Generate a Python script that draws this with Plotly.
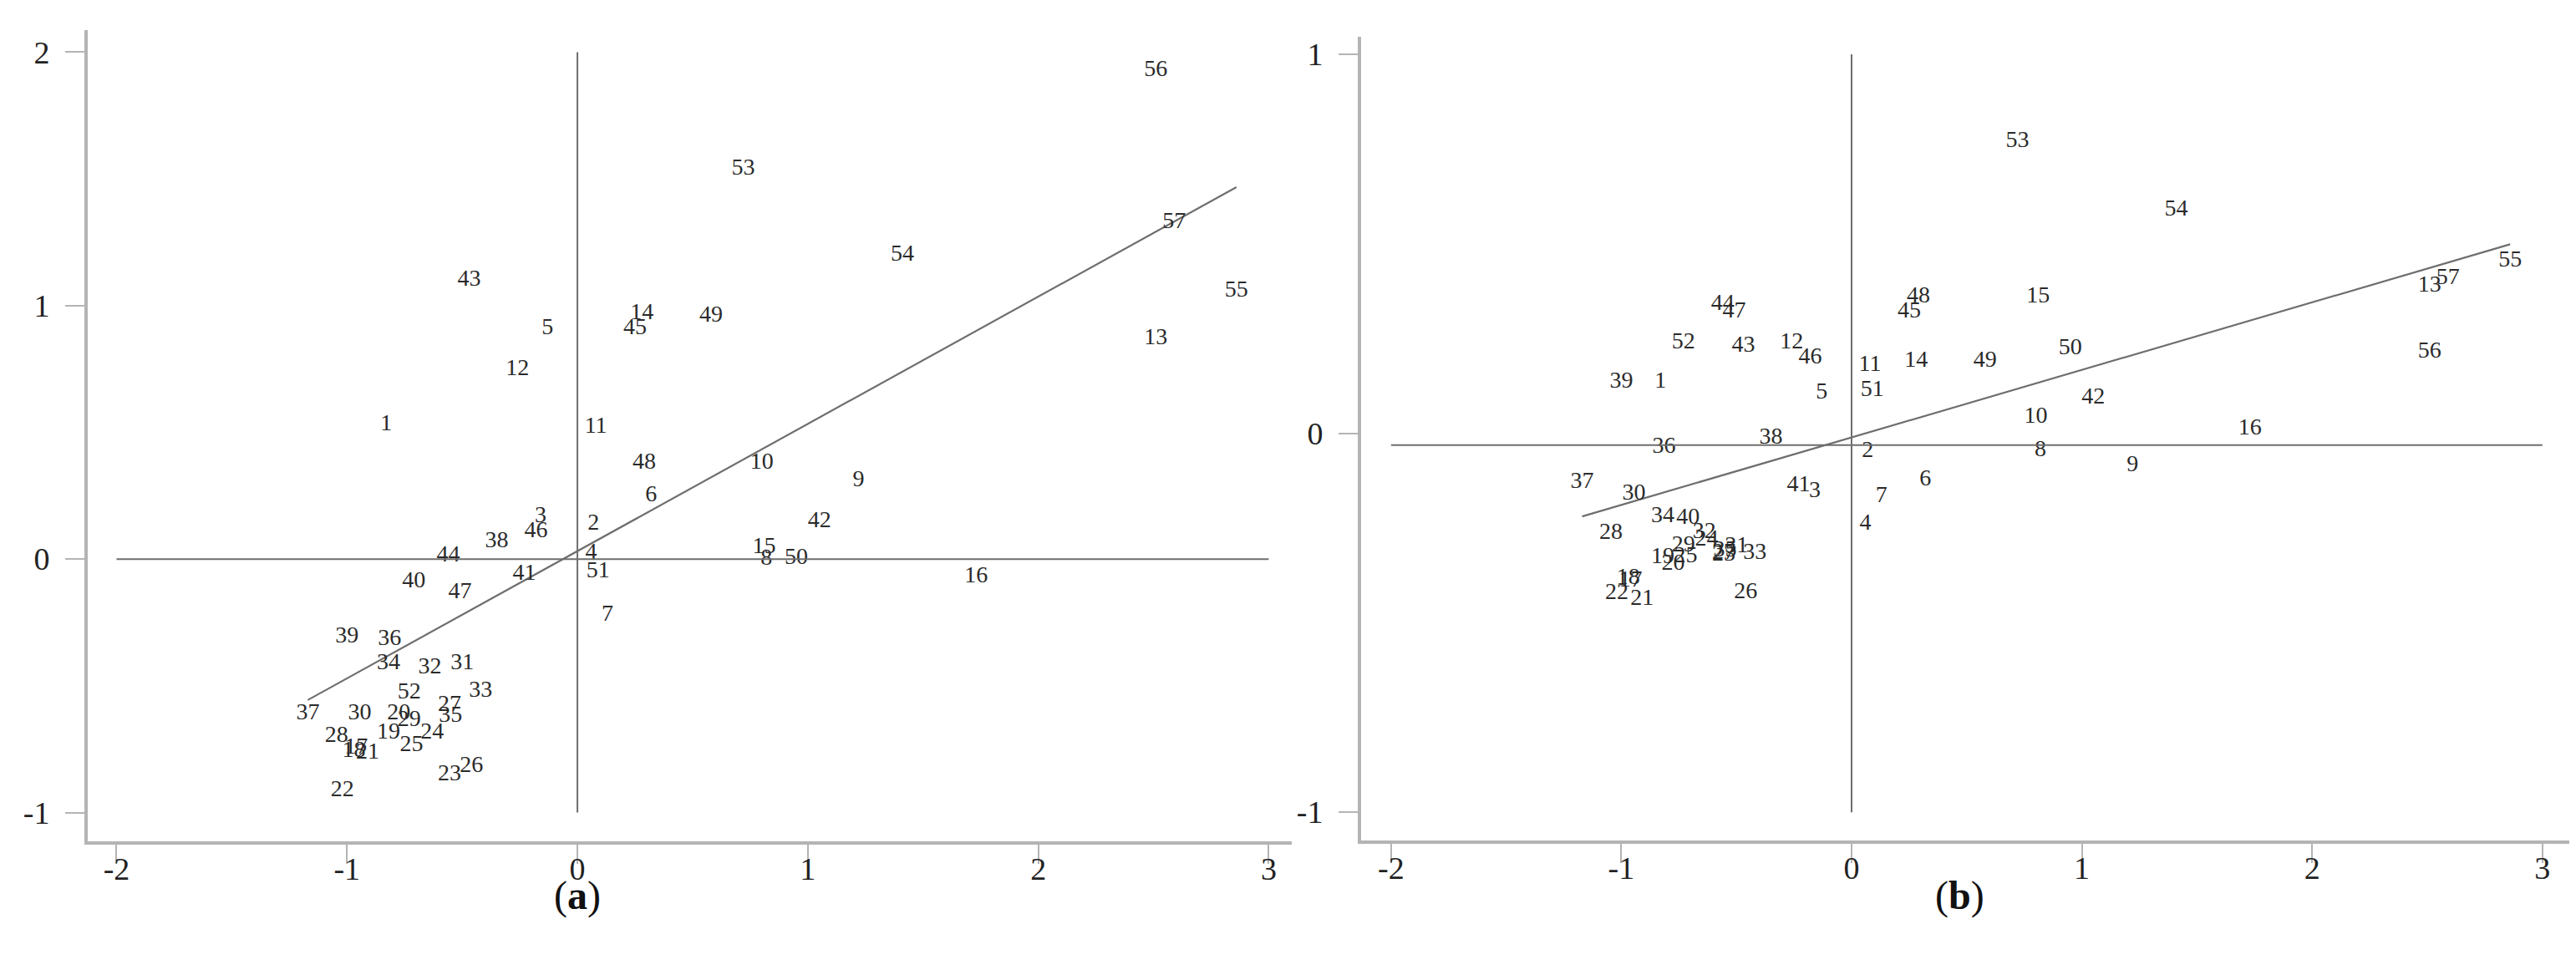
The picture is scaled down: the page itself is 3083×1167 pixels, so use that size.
import numpy as np
import plotly.graph_objects as go

# ---- data ----
labels = [str(i) for i in range(1, 58)]

x_vals = [-0.83, 0.07, -0.16, 0.06, -0.13, 0.32, 0.13, 0.82, 1.22, 0.80,
          0.08, -0.26, 2.51, 0.28, 0.81, 1.73, -0.96, -0.97, -0.82, -0.775,
          -0.91, -1.02, -0.555, -0.63, -0.72, -0.46, -0.555, -1.045, -0.73, -0.945,
          -0.50, -0.64, -0.42, -0.82, -0.55, -0.815, -1.17, -0.35, -1.0, -0.71,
          -0.23, 1.05, -0.47, -0.56, 0.25, -0.18, -0.51, 0.29, 0.58, 0.95,
          0.09, -0.73, 0.72, 1.41, 2.86, 2.51, 2.59]

y_a = [0.53, 0.14, 0.17, 0.025, 0.91, 0.25, -0.22, 0.0, 0.31, 0.38,
       0.52, 0.75, 0.87, 0.97, 0.045, -0.07, -0.745, -0.757, -0.686, -0.609,
       -0.763, -0.911, -0.851, -0.686, -0.735, -0.818, -0.576, -0.697, -0.636, -0.609,
       -0.413, -0.427, -0.52, -0.41, -0.62, -0.317, -0.61, 0.07, -0.306, -0.09,
       -0.06, 0.15, 1.10, 0.015, 0.91, 0.11, -0.13, 0.38, 0.96, 0.005,
       -0.05, -0.526, 1.54, 1.20, 1.06, 1.93, 1.33]

y_b = [0.136, -0.048, -0.153, -0.24, 0.108, -0.123, -0.166, -0.046, -0.084, 0.044,
       0.18, 0.24, 0.39, 0.19, 0.36, 0.013, -0.39, -0.383, -0.328, -0.344,
       -0.438, -0.423, -0.32, -0.28, -0.324, -0.42, -0.317, -0.263, -0.297, -0.159,
       -0.299, -0.262, -0.317, -0.22, -0.31, -0.036, -0.128, -0.011, 0.135, -0.223,
       -0.138, 0.094, 0.23, 0.34, 0.32, 0.20, 0.32, 0.36, 0.19, 0.225,
       0.113, 0.24, 0.77, 0.59, 0.456, 0.215, 0.41]

x_ticks = [-2, -1, 0, 1, 2, 3]
x_ticktext = ["-2", "-1", "0", "1", "2", "3"]
ya_ticks = [-1, 0, 1, 2]
ya_ticktext = ["-1", "0", "1", "2"]
yb_ticks = [-1, 0, 1]
yb_ticktext = ["-1", "0", "1"]
hline_a = 0.0
hline_b = -0.031
vline = 0.0
captions = ["a", "b"]

# ---- figure ----
W, H = 3083, 1167
SERIF = "Liberation Serif"
LINE_C = "#6e6e6e"
AXIS_C = "#b4b4b4"

fig = go.Figure()

panels = [
    dict(y=y_a, xa="x", ya="y", yt=ya_ticks, hl=hline_a),
    dict(y=y_b, xa="x2", ya="y2", yt=yb_ticks, hl=hline_b),
]

x_arr = np.array(x_vals)
for p in panels:
    y_arr = np.array(p["y"])
    # reference lines spanning the tick range
    fig.add_shape(type="line", xref=p["xa"], yref=p["ya"],
                  x0=vline, x1=vline, y0=min(p["yt"]), y1=max(p["yt"]),
                  line=dict(color=LINE_C, width=2))
    fig.add_shape(type="line", xref=p["xa"], yref=p["ya"],
                  x0=min(x_ticks), x1=max(x_ticks), y0=p["hl"], y1=p["hl"],
                  line=dict(color=LINE_C, width=2))
    # fitted line
    slope, icpt = np.polyfit(x_arr, y_arr, 1)
    xs = np.array([x_arr.min(), x_arr.max()])
    fig.add_trace(go.Scatter(x=xs, y=slope * xs + icpt, mode="lines",
                             line=dict(color=LINE_C, width=2.2),
                             xaxis=p["xa"], yaxis=p["ya"], showlegend=False,
                             hoverinfo="skip"))
    # labels
    fig.add_trace(go.Scatter(x=x_vals, y=p["y"], mode="text", text=labels,
                             textposition="middle center",
                             textfont=dict(family=SERIF, size=28, color="#2a2a2a"),
                             xaxis=p["xa"], yaxis=p["ya"], showlegend=False))

axis_common = dict(showgrid=False, zeroline=False, showline=True,
                   linecolor=AXIS_C, linewidth=4, ticks="outside",
                   ticklen=23, tickwidth=2, tickcolor=AXIS_C,
                   tickfont=dict(family=SERIF, size=38, color="#222222"),
                   mirror=False)

fig.update_layout(
    width=W, height=H,
    margin=dict(l=0, r=0, t=0, b=0),
    paper_bgcolor="white", plot_bgcolor="white",
    showlegend=False,
    xaxis=dict(domain=[97 / W, 1538 / W], range=[-2.125, 3.100],
               tickvals=x_ticks, ticktext=x_ticktext, anchor="y",
               ticklabelstandoff=-26, **axis_common),
    yaxis=dict(domain=[1 - 998.5 / H, 1 - 28 / H], range=[-1.112, 2.087],
               tickvals=ya_ticks, ticktext=ya_ticktext, anchor="x",
               ticklabelstandoff=11, **axis_common),
    xaxis2=dict(domain=[1621 / W, 3075 / W], range=[-2.130, 3.146],
                tickvals=x_ticks, ticktext=x_ticktext, anchor="y2",
                ticklabelstandoff=-26, **axis_common),
    yaxis2=dict(domain=[1 - 997.7 / H, 1 - 36 / H], range=[-1.074, 1.0465],
                tickvals=yb_ticks, ticktext=yb_ticktext, anchor="x2",
                ticklabelstandoff=11, **axis_common),
)

for cap, cx in zip(captions, [683 / W, 2337 / W]):
    fig.add_annotation(text="(<b>" + cap + "</b>)", xref="paper", yref="paper",
                       x=cx, y=1 - 1064 / H, xanchor="center", yanchor="middle",
                       showarrow=False,
                       font=dict(family=SERIF, size=48, color="#111111"))

fig.write_html("out.html")
